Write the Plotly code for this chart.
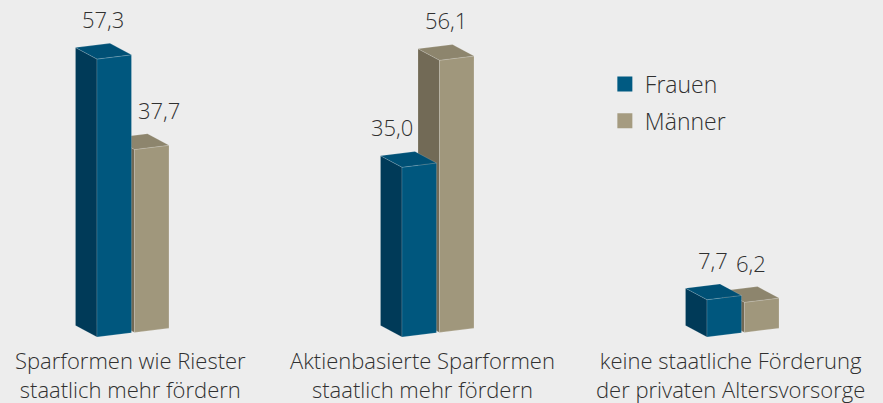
import plotly.graph_objects as go

# ---- data ----
categories = [
    "Sparformen wie Riester<br>staatlich mehr fördern",
    "Aktienbasierte Sparformen<br>staatlich mehr fördern",
    "keine staatliche Förderung<br>der privaten Altersvorsorge",
]
series_names = ["Frauen", "Männer"]
frauen = [57.3, 35.0, 7.7]
maenner = [37.7, 56.1, 6.2]

# ---- style / geometry (axis units: 1 x-unit = one category slot) ----
BAR_W = 0.113
GAP = 0.01
DEPTH_X = -0.0705
DEPTH_Y = 2.37
SLOPE = 7.77          # pseudo-perspective tilt of the front faces
X_RANGE = [-0.436, 2.459]
Y_RANGE = [-13.6, 69.48]
BG = "#EDEDED"
TEXT = "#303030"
FONT = "Open Sans"

colors = {
    "Frauen": {"front": "#00577E", "side": "#003A58", "top": "#005075", "legend": "#005A82"},
    "Männer": {"front": "#A0977C", "side": "#726A56", "top": "#8D856D", "legend": "#A59B80"},
}
label_nudge = {(0, 1): 18, (1, 0): -16}   # pixel nudges of a few value labels
cat_nudge = [10, -3, 0]                   # pixel nudges of category labels
CAT_Y = -7.8                              # category label centre (value units)

fig = go.Figure()


def fmt(v):
    return f"{v:.1f}".replace(".", ",")


def poly(xs, ys, color):
    fig.add_trace(go.Scatter(
        x=xs + [xs[0]], y=ys + [ys[0]], mode="lines", fill="toself",
        fillcolor=color, line=dict(color="rgba(255,255,255,0.25)", width=0.6),
        hoverinfo="skip", showlegend=False,
    ))


annotations = []
for i, cat in enumerate(categories):
    x0 = i - GAP / 2 - BAR_W            # left edge of the group's front plane
    base = lambda x: SLOPE * (x - x0)
    bars = [("Männer", maenner[i], i + GAP / 2, 1), ("Frauen", frauen[i], i - GAP / 2 - BAR_W, 0)]
    for name, v, xl, sidx in bars:
        xr = xl + BAR_W
        c = colors[name]
        bl, br = base(xl), base(xr)
        tl, tr = bl + v, br + v
        poly([xl, xl, xl + DEPTH_X, xl + DEPTH_X], [bl, tl, tl + DEPTH_Y, bl + DEPTH_Y], c["side"])
        poly([xl, xr, xr, xl], [bl, br, tr, tl], c["front"])
        poly([xl, xr, xr + DEPTH_X, xl + DEPTH_X], [tl, tr, tr + DEPTH_Y, tl + DEPTH_Y], c["top"])
        xc = (xl + xr) / 2
        annotations.append(dict(
            x=xc + DEPTH_X / 2, y=base(xc) + v + DEPTH_Y + 5.4, text=fmt(v),
            showarrow=False, xanchor="center", yanchor="middle",
            xshift=label_nudge.get((i, sidx), 0),
            font=dict(family=FONT, size=22, color=TEXT, weight=300),
        ))
    annotations.append(dict(
        x=i - 0.04, y=CAT_Y, text=cat, showarrow=False, xanchor="center", yanchor="middle",
        align="center", xshift=cat_nudge[i],
        font=dict(family=FONT, size=22, color=TEXT, weight=300),
    ))

for k, name in enumerate(series_names):
    fig.add_trace(go.Scatter(
        x=[None], y=[None], mode="markers", name=name, legendgroup=f"g{k}",
        marker=dict(symbol="square", size=15, color=colors[name]["legend"]),
    ))

fig.update_layout(
    width=883, height=403,
    margin=dict(l=0, r=0, t=0, b=0),
    paper_bgcolor=BG, plot_bgcolor=BG,
    xaxis=dict(range=X_RANGE, visible=False, fixedrange=True),
    yaxis=dict(range=Y_RANGE, visible=False, fixedrange=True),
    annotations=annotations,
    showlegend=True,
    legend=dict(x=0.685, y=0.845, xanchor="left", yanchor="top",
                bgcolor="rgba(0,0,0,0)", font=dict(family=FONT, size=23, color=TEXT, weight=300),
                tracegroupgap=4, itemwidth=30),
    font=dict(family=FONT),
)

fig.write_html(
    "out.html",
    config={"displayModeBar": False},
    post_script="document.body.style.margin='0';document.body.style.overflow='hidden';",
)
